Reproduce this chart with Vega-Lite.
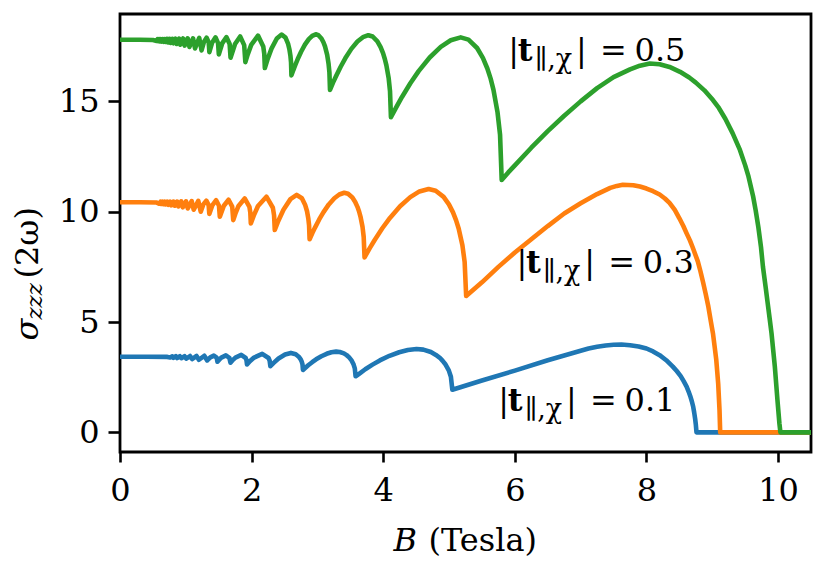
{
"$schema": "https://vega.github.io/schema/vega-lite/v6.json",
"width": 691, "height": 438,
"autosize": {"type": "none"},
"padding": {"left": 120, "top": 14, "right": 20, "bottom": 113},
"background": "white",
"config": {
  "font": "DejaVu Serif",
  "view": {"stroke": "black", "strokeWidth": 2.8},
  "axis": {"grid": false, "domain": false, "tickColor": "black", "tickWidth": 2.6, "labelColor": "black", "labelFont": "DejaVu Serif", "labelFontSize": 32, "titleFont": "DejaVu Serif", "titleFontSize": 32, "titleFontWeight": "normal", "titleColor": "black"},
  "text": {"font": "DejaVu Serif"}
},
"datasets": {
"curves": [
{"s":"0.1","B":0,"v":3.43},{"s":"0.1","B":0.4,"v":3.43},{"s":"0.1","B":0.72,"v":3.42},{"s":"0.1","B":0.763,"v":3.39},{"s":"0.1","B":0.795,"v":3.445},{"s":"0.1","B":0.812,"v":3.38},{"s":"0.1","B":0.848,"v":3.45},{"s":"0.1","B":0.868,"v":3.37},{"s":"0.1","B":0.91,"v":3.45},{"s":"0.1","B":0.932,"v":3.36},{"s":"0.1","B":0.981,"v":3.45},{"s":"0.1","B":1.007,"v":3.34},{"s":"0.1","B":1.064,"v":3.46},{"s":"0.1","B":1.095,"v":3.32},{"s":"0.1","B":1.163,"v":3.46},{"s":"0.1","B":1.199,"v":3.29},{"s":"0.1","B":1.281,"v":3.47},{"s":"0.1","B":1.325,"v":3.26},{"s":"0.1","B":1.372,"v":3.40},{"s":"0.1","B":1.426,"v":3.48},{"s":"0.1","B":1.469,"v":3.39},{"s":"0.1","B":1.481,"v":3.20},{"s":"0.1","B":1.54,"v":3.39},{"s":"0.1","B":1.609,"v":3.49},{"s":"0.1","B":1.662,"v":3.38},{"s":"0.1","B":1.678,"v":3.16},{"s":"0.1","B":1.708,"v":3.26},{"s":"0.1","B":1.754,"v":3.39},{"s":"0.1","B":1.842,"v":3.51},{"s":"0.1","B":1.91,"v":3.37},{"s":"0.1","B":1.922,"v":3.27},{"s":"0.1","B":1.93,"v":3.08},{"s":"0.1","B":1.973,"v":3.22},{"s":"0.1","B":2.037,"v":3.39},{"s":"0.1","B":2.161,"v":3.56},{"s":"0.1","B":2.257,"v":3.37},{"s":"0.1","B":2.274,"v":3.25},{"s":"0.1","B":2.285,"v":3.0},{"s":"0.1","B":2.335,"v":3.15},{"s":"0.1","B":2.409,"v":3.35},{"s":"0.1","B":2.508,"v":3.53},{"s":"0.1","B":2.597,"v":3.60},{"s":"0.1","B":2.67,"v":3.54},{"s":"0.1","B":2.716,"v":3.43},{"s":"0.1","B":2.743,"v":3.32},{"s":"0.1","B":2.762,"v":3.20},{"s":"0.1","B":2.773,"v":3.08},{"s":"0.1","B":2.78,"v":2.83},{"s":"0.1","B":2.86,"v":3.04},{"s":"0.1","B":2.92,"v":3.18},{"s":"0.1","B":2.98,"v":3.31},{"s":"0.1","B":3.06,"v":3.45},{"s":"0.1","B":3.14,"v":3.56},{"s":"0.1","B":3.212,"v":3.63},{"s":"0.1","B":3.284,"v":3.66},{"s":"0.1","B":3.34,"v":3.64},{"s":"0.1","B":3.402,"v":3.58},{"s":"0.1","B":3.444,"v":3.50},{"s":"0.1","B":3.476,"v":3.42},{"s":"0.1","B":3.521,"v":3.25},{"s":"0.1","B":3.55,"v":3.07},{"s":"0.1","B":3.568,"v":2.90},{"s":"0.1","B":3.58,"v":2.54},{"s":"0.1","B":3.654,"v":2.70},{"s":"0.1","B":3.727,"v":2.86},{"s":"0.1","B":3.837,"v":3.07},{"s":"0.1","B":3.948,"v":3.26},{"s":"0.1","B":4.095,"v":3.47},{"s":"0.1","B":4.242,"v":3.63},{"s":"0.1","B":4.374,"v":3.73},{"s":"0.1","B":4.506,"v":3.78},{"s":"0.1","B":4.609,"v":3.75},{"s":"0.1","B":4.724,"v":3.64},{"s":"0.1","B":4.8,"v":3.51},{"s":"0.1","B":4.86,"v":3.38},{"s":"0.1","B":4.903,"v":3.24},{"s":"0.1","B":4.941,"v":3.10},{"s":"0.1","B":4.996,"v":2.81},{"s":"0.1","B":5.028,"v":2.52},{"s":"0.1","B":5.05,"v":1.93},{"s":"0.1","B":5.5,"v":2.35},{"s":"0.1","B":6.0,"v":2.8},{"s":"0.1","B":6.5,"v":3.27},{"s":"0.1","B":7.0,"v":3.7},{"s":"0.1","B":7.12,"v":3.8},{"s":"0.1","B":7.25,"v":3.88},{"s":"0.1","B":7.38,"v":3.94},{"s":"0.1","B":7.5,"v":3.97},{"s":"0.1","B":7.62,"v":3.98},{"s":"0.1","B":7.75,"v":3.95},{"s":"0.1","B":7.88,"v":3.89},{"s":"0.1","B":8.0,"v":3.8},{"s":"0.1","B":8.1,"v":3.67},{"s":"0.1","B":8.2,"v":3.5},{"s":"0.1","B":8.3,"v":3.27},{"s":"0.1","B":8.4,"v":2.98},{"s":"0.1","B":8.46,"v":2.78},{"s":"0.1","B":8.52,"v":2.55},{"s":"0.1","B":8.565,"v":2.32},{"s":"0.1","B":8.61,"v":2.07},{"s":"0.1","B":8.64,"v":1.85},{"s":"0.1","B":8.67,"v":1.6},{"s":"0.1","B":8.69,"v":1.4},{"s":"0.1","B":8.71,"v":1.16},{"s":"0.1","B":8.725,"v":0.9},{"s":"0.1","B":8.74,"v":0.6},{"s":"0.1","B":8.75,"v":0.35},{"s":"0.1","B":8.76,"v":0},{"s":"0.1","B":10.5,"v":0},
{"s":"0.3","B":0,"v":10.43},{"s":"0.3","B":0.3,"v":10.43},{"s":"0.3","B":0.55,"v":10.42},{"s":"0.3","B":0.598,"v":10.36},{"s":"0.3","B":0.617,"v":10.45},{"s":"0.3","B":0.627,"v":10.35},{"s":"0.3","B":0.648,"v":10.45},{"s":"0.3","B":0.659,"v":10.34},{"s":"0.3","B":0.682,"v":10.45},{"s":"0.3","B":0.695,"v":10.33},{"s":"0.3","B":0.721,"v":10.45},{"s":"0.3","B":0.735,"v":10.31},{"s":"0.3","B":0.764,"v":10.45},{"s":"0.3","B":0.779,"v":10.29},{"s":"0.3","B":0.812,"v":10.46},{"s":"0.3","B":0.83,"v":10.27},{"s":"0.3","B":0.867,"v":10.46},{"s":"0.3","B":0.887,"v":10.24},{"s":"0.3","B":0.93,"v":10.47},{"s":"0.3","B":0.953,"v":10.20},{"s":"0.3","B":1.003,"v":10.47},{"s":"0.3","B":1.03,"v":10.15},{"s":"0.3","B":1.089,"v":10.48},{"s":"0.3","B":1.12,"v":10.09},{"s":"0.3","B":1.19,"v":10.49},{"s":"0.3","B":1.227,"v":10.0},{"s":"0.3","B":1.266,"v":10.33},{"s":"0.3","B":1.312,"v":10.50},{"s":"0.3","B":1.347,"v":10.30},{"s":"0.3","B":1.357,"v":9.90},{"s":"0.3","B":1.405,"v":10.30},{"s":"0.3","B":1.461,"v":10.52},{"s":"0.3","B":1.504,"v":10.27},{"s":"0.3","B":1.517,"v":9.77},{"s":"0.3","B":1.578,"v":10.27},{"s":"0.3","B":1.65,"v":10.54},{"s":"0.3","B":1.705,"v":10.23},{"s":"0.3","B":1.721,"v":9.62},{"s":"0.3","B":1.753,"v":9.91},{"s":"0.3","B":1.801,"v":10.26},{"s":"0.3","B":1.895,"v":10.60},{"s":"0.3","B":1.967,"v":10.22},{"s":"0.3","B":1.98,"v":9.97},{"s":"0.3","B":1.988,"v":9.47},{"s":"0.3","B":2.032,"v":9.82},{"s":"0.3","B":2.097,"v":10.26},{"s":"0.3","B":2.225,"v":10.68},{"s":"0.3","B":2.323,"v":10.18},{"s":"0.3","B":2.341,"v":9.84},{"s":"0.3","B":2.352,"v":9.17},{"s":"0.3","B":2.405,"v":9.58},{"s":"0.3","B":2.484,"v":10.09},{"s":"0.3","B":2.59,"v":10.57},{"s":"0.3","B":2.685,"v":10.76},{"s":"0.3","B":2.764,"v":10.61},{"s":"0.3","B":2.812,"v":10.32},{"s":"0.3","B":2.842,"v":10.02},{"s":"0.3","B":2.861,"v":9.70},{"s":"0.3","B":2.873,"v":9.39},{"s":"0.3","B":2.881,"v":8.75},{"s":"0.3","B":2.923,"v":9.03},{"s":"0.3","B":2.965,"v":9.29},{"s":"0.3","B":3.027,"v":9.65},{"s":"0.3","B":3.09,"v":9.97},{"s":"0.3","B":3.173,"v":10.33},{"s":"0.3","B":3.257,"v":10.61},{"s":"0.3","B":3.332,"v":10.78},{"s":"0.3","B":3.407,"v":10.86},{"s":"0.3","B":3.466,"v":10.81},{"s":"0.3","B":3.531,"v":10.64},{"s":"0.3","B":3.574,"v":10.44},{"s":"0.3","B":3.608,"v":10.22},{"s":"0.3","B":3.633,"v":10.01},{"s":"0.3","B":3.654,"v":9.78},{"s":"0.3","B":3.685,"v":9.32},{"s":"0.3","B":3.703,"v":8.86},{"s":"0.3","B":3.716,"v":7.93},{"s":"0.3","B":3.793,"v":8.34},{"s":"0.3","B":3.87,"v":8.72},{"s":"0.3","B":3.986,"v":9.25},{"s":"0.3","B":4.102,"v":9.72},{"s":"0.3","B":4.256,"v":10.25},{"s":"0.3","B":4.411,"v":10.66},{"s":"0.3","B":4.55,"v":10.92},{"s":"0.3","B":4.689,"v":11.03},{"s":"0.3","B":4.797,"v":10.95},{"s":"0.3","B":4.917,"v":10.67},{"s":"0.3","B":4.998,"v":10.33},{"s":"0.3","B":5.06,"v":9.97},{"s":"0.3","B":5.106,"v":9.62},{"s":"0.3","B":5.146,"v":9.24},{"s":"0.3","B":5.203,"v":8.48},{"s":"0.3","B":5.237,"v":7.72},{"s":"0.3","B":5.26,"v":6.18},{"s":"0.3","B":5.5,"v":6.8},{"s":"0.3","B":5.75,"v":7.5},{"s":"0.3","B":6.0,"v":8.15},{"s":"0.3","B":6.25,"v":8.75},{"s":"0.3","B":6.5,"v":9.35},{"s":"0.3","B":6.75,"v":9.92},{"s":"0.3","B":7.0,"v":10.38},{"s":"0.3","B":7.25,"v":10.8},{"s":"0.3","B":7.45,"v":11.08},{"s":"0.3","B":7.55,"v":11.17},{"s":"0.3","B":7.64,"v":11.22},{"s":"0.3","B":7.8,"v":11.2},{"s":"0.3","B":7.9,"v":11.14},{"s":"0.3","B":8.0,"v":11.05},{"s":"0.3","B":8.1,"v":10.93},{"s":"0.3","B":8.2,"v":10.78},{"s":"0.3","B":8.28,"v":10.6},{"s":"0.3","B":8.35,"v":10.4},{"s":"0.3","B":8.43,"v":10.08},{"s":"0.3","B":8.5,"v":9.7},{"s":"0.3","B":8.56,"v":9.35},{"s":"0.3","B":8.61,"v":9.02},{"s":"0.3","B":8.66,"v":8.7},{"s":"0.3","B":8.7,"v":8.4},{"s":"0.3","B":8.78,"v":7.75},{"s":"0.3","B":8.82,"v":7.3},{"s":"0.3","B":8.86,"v":6.8},{"s":"0.3","B":8.9,"v":6.27},{"s":"0.3","B":8.94,"v":5.7},{"s":"0.3","B":8.98,"v":5.0},{"s":"0.3","B":9.01,"v":4.49},{"s":"0.3","B":9.035,"v":3.9},{"s":"0.3","B":9.06,"v":3.3},{"s":"0.3","B":9.075,"v":2.75},{"s":"0.3","B":9.09,"v":2.2},{"s":"0.3","B":9.1,"v":1.6},{"s":"0.3","B":9.11,"v":1.0},{"s":"0.3","B":9.12,"v":0},{"s":"0.3","B":10.5,"v":0},
{"s":"0.5","B":0,"v":17.79},{"s":"0.5","B":0.3,"v":17.79},{"s":"0.5","B":0.5,"v":17.78},{"s":"0.5","B":0.557,"v":17.74},{"s":"0.5","B":0.572,"v":17.82},{"s":"0.5","B":0.58,"v":17.73},{"s":"0.5","B":0.596,"v":17.82},{"s":"0.5","B":0.605,"v":17.72},{"s":"0.5","B":0.623,"v":17.82},{"s":"0.5","B":0.632,"v":17.71},{"s":"0.5","B":0.651,"v":17.82},{"s":"0.5","B":0.661,"v":17.70},{"s":"0.5","B":0.682,"v":17.82},{"s":"0.5","B":0.694,"v":17.69},{"s":"0.5","B":0.717,"v":17.83},{"s":"0.5","B":0.729,"v":17.67},{"s":"0.5","B":0.755,"v":17.83},{"s":"0.5","B":0.769,"v":17.65},{"s":"0.5","B":0.798,"v":17.83},{"s":"0.5","B":0.813,"v":17.63},{"s":"0.5","B":0.846,"v":17.84},{"s":"0.5","B":0.863,"v":17.60},{"s":"0.5","B":0.899,"v":17.84},{"s":"0.5","B":0.918,"v":17.57},{"s":"0.5","B":0.96,"v":17.85},{"s":"0.5","B":0.982,"v":17.53},{"s":"0.5","B":1.029,"v":17.86},{"s":"0.5","B":1.055,"v":17.47},{"s":"0.5","B":1.11,"v":17.86},{"s":"0.5","B":1.14,"v":17.40},{"s":"0.5","B":1.204,"v":17.88},{"s":"0.5","B":1.239,"v":17.31},{"s":"0.5","B":1.275,"v":17.69},{"s":"0.5","B":1.316,"v":17.89},{"s":"0.5","B":1.348,"v":17.67},{"s":"0.5","B":1.358,"v":17.23},{"s":"0.5","B":1.401,"v":17.67},{"s":"0.5","B":1.452,"v":17.90},{"s":"0.5","B":1.49,"v":17.64},{"s":"0.5","B":1.502,"v":17.13},{"s":"0.5","B":1.555,"v":17.64},{"s":"0.5","B":1.618,"v":17.91},{"s":"0.5","B":1.666,"v":17.60},{"s":"0.5","B":1.68,"v":16.98},{"s":"0.5","B":1.748,"v":17.60},{"s":"0.5","B":1.826,"v":17.94},{"s":"0.5","B":1.887,"v":17.55},{"s":"0.5","B":1.905,"v":16.78},{"s":"0.5","B":1.941,"v":17.13},{"s":"0.5","B":1.994,"v":17.56},{"s":"0.5","B":2.097,"v":17.98},{"s":"0.5","B":2.177,"v":17.49},{"s":"0.5","B":2.192,"v":17.16},{"s":"0.5","B":2.201,"v":16.51},{"s":"0.5","B":2.241,"v":16.90},{"s":"0.5","B":2.302,"v":17.39},{"s":"0.5","B":2.383,"v":17.85},{"s":"0.5","B":2.456,"v":18.03},{"s":"0.5","B":2.515,"v":17.89},{"s":"0.5","B":2.553,"v":17.62},{"s":"0.5","B":2.575,"v":17.35},{"s":"0.5","B":2.59,"v":17.06},{"s":"0.5","B":2.599,"v":16.77},{"s":"0.5","B":2.605,"v":16.18},{"s":"0.5","B":2.634,"v":16.42},{"s":"0.5","B":2.664,"v":16.65},{"s":"0.5","B":2.708,"v":16.97},{"s":"0.5","B":2.752,"v":17.25},{"s":"0.5","B":2.81,"v":17.57},{"s":"0.5","B":2.869,"v":17.82},{"s":"0.5","B":2.921,"v":17.97},{"s":"0.5","B":2.974,"v":18.04},{"s":"0.5","B":3.015,"v":18.0},{"s":"0.5","B":3.061,"v":17.85},{"s":"0.5","B":3.091,"v":17.68},{"s":"0.5","B":3.115,"v":17.49},{"s":"0.5","B":3.148,"v":17.11},{"s":"0.5","B":3.169,"v":16.71},{"s":"0.5","B":3.182,"v":16.32},{"s":"0.5","B":3.191,"v":15.52},{"s":"0.5","B":3.237,"v":15.85},{"s":"0.5","B":3.284,"v":16.15},{"s":"0.5","B":3.353,"v":16.57},{"s":"0.5","B":3.423,"v":16.95},{"s":"0.5","B":3.515,"v":17.38},{"s":"0.5","B":3.608,"v":17.71},{"s":"0.5","B":3.691,"v":17.91},{"s":"0.5","B":3.774,"v":18.0},{"s":"0.5","B":3.839,"v":17.94},{"s":"0.5","B":3.911,"v":17.72},{"s":"0.5","B":3.96,"v":17.46},{"s":"0.5","B":3.997,"v":17.19},{"s":"0.5","B":4.024,"v":16.92},{"s":"0.5","B":4.048,"v":16.63},{"s":"0.5","B":4.083,"v":16.04},{"s":"0.5","B":4.103,"v":15.46},{"s":"0.5","B":4.117,"v":14.28},{"s":"0.5","B":4.201,"v":14.75},{"s":"0.5","B":4.285,"v":15.20},{"s":"0.5","B":4.412,"v":15.82},{"s":"0.5","B":4.538,"v":16.37},{"s":"0.5","B":4.706,"v":16.99},{"s":"0.5","B":4.874,"v":17.47},{"s":"0.5","B":5.026,"v":17.77},{"s":"0.5","B":5.177,"v":17.90},{"s":"0.5","B":5.295,"v":17.80},{"s":"0.5","B":5.426,"v":17.42},{"s":"0.5","B":5.514,"v":16.97},{"s":"0.5","B":5.582,"v":16.49},{"s":"0.5","B":5.632,"v":16.03},{"s":"0.5","B":5.675,"v":15.52},{"s":"0.5","B":5.737,"v":14.50},{"s":"0.5","B":5.775,"v":13.49},{"s":"0.5","B":5.8,"v":11.44},{"s":"0.5","B":5.9,"v":11.78},{"s":"0.5","B":6.0,"v":12.1},{"s":"0.5","B":6.25,"v":12.9},{"s":"0.5","B":6.5,"v":13.65},{"s":"0.5","B":6.75,"v":14.35},{"s":"0.5","B":7.0,"v":15.0},{"s":"0.5","B":7.25,"v":15.6},{"s":"0.5","B":7.5,"v":16.1},{"s":"0.5","B":7.75,"v":16.45},{"s":"0.5","B":7.9,"v":16.62},{"s":"0.5","B":8.05,"v":16.72},{"s":"0.5","B":8.2,"v":16.68},{"s":"0.5","B":8.35,"v":16.56},{"s":"0.5","B":8.51,"v":16.34},{"s":"0.5","B":8.65,"v":16.08},{"s":"0.5","B":8.75,"v":15.85},{"s":"0.5","B":8.88,"v":15.5},{"s":"0.5","B":9.01,"v":15.06},{"s":"0.5","B":9.1,"v":14.7},{"s":"0.5","B":9.2,"v":14.2},{"s":"0.5","B":9.31,"v":13.55},{"s":"0.5","B":9.42,"v":12.8},{"s":"0.5","B":9.5,"v":12.1},{"s":"0.5","B":9.55,"v":11.6},{"s":"0.5","B":9.62,"v":10.7},{"s":"0.5","B":9.66,"v":10.05},{"s":"0.5","B":9.7,"v":9.3},{"s":"0.5","B":9.74,"v":8.4},{"s":"0.5","B":9.77,"v":7.5},{"s":"0.5","B":9.81,"v":6.6},{"s":"0.5","B":9.84,"v":5.9},{"s":"0.5","B":9.87,"v":5.2},{"s":"0.5","B":9.9,"v":4.49},{"s":"0.5","B":9.95,"v":3.0},{"s":"0.5","B":9.99,"v":1.47},{"s":"0.5","B":10.02,"v":0.4},{"s":"0.5","B":10.035,"v":0},{"s":"0.5","B":10.5,"v":0}
],
"labels": [
{"B":5.952,"v":16.85,"val":"0.5"},
{"B":6.078,"v":7.22,"val":"0.3"},
{"B":5.80,"v":0.96,"val":"0.1"}
]
},
"layer": [
{
 "data": {"name": "curves"},
 "mark": {"type": "line", "strokeWidth": 4.6, "strokeJoin": "round", "clip": true},
 "encoding": {
  "x": {"field": "B", "type": "quantitative", "scale": {"domain": [0, 10.5], "nice": false, "zero": false},
        "axis": {"orient": "bottom", "values": [0,2,4,6,8,10], "format": "d", "tickSize": 10, "labelPadding": 38, "labelBaseline": "alphabetic", "labelFlush": false, "labelOverlap": false,
                 "title": "(Tesla)", "titleX": 308, "titleY": 98, "titleAlign": "left", "titleBaseline": "alphabetic"}},
  "y": {"field": "v", "type": "quantitative", "scale": {"domain": [-0.89, 18.96], "nice": false, "zero": false},
        "axis": {"orient": "left", "values": [0,5,10,15], "format": "d", "tickSize": 12, "labelPadding": 9, "labelOverlap": false, "labelFlush": false,
                 "title": "(2ω)", "titleX": -82.3, "titleY": 264, "titleAngle": 270, "titleAlign": "left", "titleBaseline": "alphabetic"}},
  "color": {"field": "s", "type": "nominal", "scale": {"domain": ["0.1","0.3","0.5"], "range": ["#1f77b4","#ff7f0e","#2ca02c"]}, "legend": null}
 }
},
{
 "data": {"name": "labels"},
 "mark": {"type": "text", "text": "|", "align": "center", "baseline": "alphabetic", "dx": 2, "fontSize": 32, "color": "black"},
 "encoding": {
  "x": {"field": "B", "type": "quantitative", "axis": {"orient": "bottom", "ticks": false, "labels": false, "domain": false, "title": "B", "titleFontStyle": "italic", "titleX": 273, "titleY": 98, "titleAlign": "left", "titleBaseline": "alphabetic"}},
  "y": {"field": "v", "type": "quantitative", "axis": {"orient": "left", "ticks": false, "labels": false, "domain": false, "title": "σ", "titleFontStyle": "italic", "titleX": -82.3, "titleY": 326, "titleAngle": 270, "titleAlign": "left", "titleBaseline": "alphabetic"}}
 }
},
{
 "data": {"name": "labels"},
 "mark": {"type": "text", "text": "t", "align": "center", "baseline": "alphabetic", "dx": 13.5, "fontSize": 32, "fontWeight": "bold", "color": "black"},
 "encoding": {
  "x": {"field": "B", "type": "quantitative", "axis": null},
  "y": {"field": "v", "type": "quantitative", "axis": {"orient": "left", "ticks": false, "labels": false, "domain": false, "title": "zzz", "titleFontStyle": "italic", "titleFontSize": 23, "titleX": -78.3, "titleY": 305, "titleAngle": 270, "titleAlign": "left", "titleBaseline": "alphabetic"}}
 }
},
{
 "data": {"name": "labels"},
 "mark": {"type": "text", "text": "∥,χ", "align": "left", "baseline": "alphabetic", "dx": 23, "dy": 7, "fontSize": 27, "color": "black"},
 "encoding": {
  "x": {"field": "B", "type": "quantitative", "axis": null},
  "y": {"field": "v", "type": "quantitative", "axis": null}
 }
},
{
 "data": {"name": "labels"},
 "mark": {"type": "text", "text": "|", "align": "center", "baseline": "alphabetic", "dx": 69.6, "fontSize": 32, "color": "black"},
 "encoding": {
  "x": {"field": "B", "type": "quantitative", "axis": null},
  "y": {"field": "v", "type": "quantitative", "axis": null}
 }
},
{
 "data": {"name": "labels"},
 "mark": {"type": "text", "text": "=", "align": "center", "baseline": "alphabetic", "dx": 101.6, "fontSize": 32, "color": "black"},
 "encoding": {
  "x": {"field": "B", "type": "quantitative", "axis": null},
  "y": {"field": "v", "type": "quantitative", "axis": null}
 }
},
{
 "data": {"name": "labels"},
 "mark": {"type": "text", "align": "center", "baseline": "alphabetic", "dx": 148.3, "fontSize": 32, "color": "black"},
 "encoding": {
  "x": {"field": "B", "type": "quantitative", "axis": null},
  "y": {"field": "v", "type": "quantitative", "axis": null},
  "text": {"field": "val", "type": "nominal"}
 }
}
],
"resolve": {"axis": {"x": "independent", "y": "independent"}}
}
